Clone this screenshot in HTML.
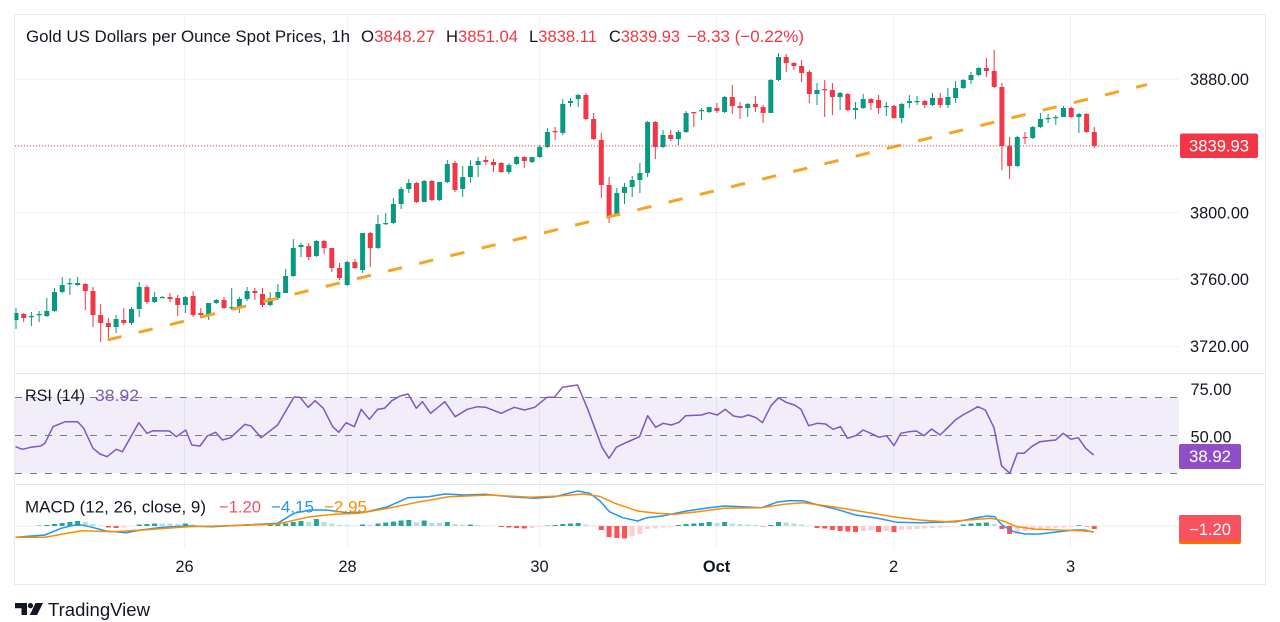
<!DOCTYPE html>
<html>
<head>
<meta charset="utf-8">
<style>
html,body{margin:0;padding:0;background:#fff;width:1280px;height:622px;overflow:hidden}
svg{display:block}
</style>
</head>
<body>
<svg width="1280" height="622" viewBox="0 0 1280 622" xmlns="http://www.w3.org/2000/svg" font-family="'Liberation Sans', Arial, sans-serif">
<defs>
<clipPath id="mainclip"><rect x="14.5" y="14.5" width="1164.5" height="358.5"/></clipPath>
<clipPath id="rsiclip"><rect x="14.5" y="374" width="1164.5" height="110"/></clipPath>
<clipPath id="macdclip"><rect x="14.5" y="485" width="1164.5" height="63"/></clipPath>
</defs>

<!-- frame -->
<rect x="14.5" y="14.5" width="1251" height="570" fill="#fff" stroke="#e9eaee" stroke-width="1"/>

<!-- vertical grid -->
<g stroke="#f0f2f6" stroke-width="1">
<line x1="184.5" y1="15" x2="184.5" y2="548"/>
<line x1="347.5" y1="15" x2="347.5" y2="548"/>
<line x1="539.5" y1="15" x2="539.5" y2="548"/>
<line x1="716.5" y1="15" x2="716.5" y2="548"/>
<line x1="893.5" y1="15" x2="893.5" y2="548"/>
<line x1="1070.5" y1="15" x2="1070.5" y2="548"/>
</g>
<!-- horizontal grid main -->
<g stroke="#f0f2f6" stroke-width="1">
<line x1="15" y1="79.5" x2="1179" y2="79.5"/>
<line x1="15" y1="146" x2="1179" y2="146"/>
<line x1="15" y1="212.5" x2="1179" y2="212.5"/>
<line x1="15" y1="279.5" x2="1179" y2="279.5"/>
<line x1="15" y1="346.5" x2="1179" y2="346.5"/>
</g>

<!-- RSI background -->
<rect x="15" y="397" width="1164" height="76" fill="#7E57C2" fill-opacity="0.1"/>

<!-- pane separators -->
<line x1="15" y1="373.5" x2="1265" y2="373.5" stroke="#e3e5ea" stroke-width="1"/>
<line x1="15" y1="484.5" x2="1265" y2="484.5" stroke="#e3e5ea" stroke-width="1"/>

<!-- Candles -->
<g clip-path="url(#mainclip)">
<path stroke="#089981" stroke-width="1" fill="none" d="M16 308V329M31.4 312V326M39.1 311V322M46.8 298V317M54.5 288V312M62.2 277V293M69.9 278V295M77.6 277V286M116.1 315V333M131.5 307V325M139.2 282V317M154.6 292V303M162.3 296V298M185.4 296V313M208.6 303V320M216.3 299V304M231.7 288V310M239.4 297V313M247.1 287V301M270.2 292V306M277.9 284V300M285.6 269V293M293.3 239V277M301 243V257M316.4 240V257M347.2 261V286M362.6 233V273M378 215V249M385.7 213V225M393.4 198V224M401.1 187V209M408.8 179V193M424.2 180V202M439.6 182V201M447.3 160V183M462.7 166V197M470.4 160V183M478.1 157V177M508.9 163V174M516.6 156V165M532 157V163M539.7 145V158M547.4 128V148M562.8 99V135M570.5 98V107M578.2 94V107M616.8 188V216M624.5 183V204M632.2 176V197M639.9 163V193M647.6 121V177M663 130V148M678.4 130V145M686.1 111V133M701.5 108V120M709.2 107V113M724.6 96V113M747.7 103V117M770.8 79V113M778.5 53V81M817 83V105M840.1 92V110M855.5 102V119M863.2 94V109M886.3 102V116M901.7 103V123M909.4 95V108M917.1 96V105M932.5 93V106M947.9 88V108M955.6 81V103M963.3 79V89M971 72V84M978.7 67V76M1017.3 136V167M1032.7 126V139M1040.4 113V128M1048.1 114V123M1055.8 115V125M1063.5 106V117M1078.9 113V133"/>
<path fill="#089981" d="M13.5 313h5V320h-5zM28.9 316h5V317.2h-5zM36.6 314h5V315.2h-5zM44.3 311h5V316h-5zM52 292h5V311h-5zM59.7 285h5V292h-5zM67.4 283h5V284.2h-5zM75.1 283h5V285h-5zM113.6 319h5V327h-5zM129 309h5V323h-5zM136.7 287h5V309h-5zM152.1 297h5V302h-5zM159.8 297h5V298.2h-5zM182.9 297h5V305h-5zM206.1 303h5V316h-5zM213.8 300h5V303h-5zM229.2 307h5V308.2h-5zM236.9 299h5V308h-5zM244.6 291h5V299h-5zM267.7 298h5V305h-5zM275.4 292h5V298h-5zM283.1 276h5V293h-5zM290.8 248h5V276h-5zM298.5 245h5V247h-5zM313.9 241h5V256h-5zM344.7 262h5V285h-5zM360.1 233h5V270h-5zM375.5 224h5V248h-5zM383.2 223h5V224.2h-5zM390.9 204h5V223h-5zM398.6 189h5V204h-5zM406.3 183h5V189h-5zM421.7 181h5V202h-5zM437.1 182h5V200h-5zM444.8 164h5V182h-5zM460.2 177h5V189h-5zM467.9 166h5V177h-5zM475.6 161h5V165h-5zM506.4 165h5V172h-5zM514.1 157h5V164h-5zM529.5 157h5V162h-5zM537.2 147h5V157h-5zM544.9 132h5V147h-5zM560.3 104h5V133h-5zM568 101h5V103h-5zM575.7 95h5V99h-5zM614.3 193h5V215h-5zM622 187h5V193h-5zM629.7 180h5V187h-5zM637.4 173h5V180h-5zM645.1 122h5V173h-5zM660.5 135h5V147h-5zM675.9 132h5V139h-5zM683.6 113h5V132h-5zM699 110h5V111.2h-5zM706.7 107h5V112h-5zM722.1 97h5V112h-5zM745.2 104h5V108h-5zM768.3 80h5V113h-5zM776 57h5V80h-5zM814.5 90h5V94h-5zM837.6 93h5V97h-5zM853 108h5V110h-5zM860.7 99h5V108h-5zM883.8 106h5V107.2h-5zM899.2 104h5V118h-5zM906.9 101h5V103h-5zM914.6 101h5V102.2h-5zM930 98h5V105h-5zM945.4 97h5V105h-5zM953.1 88h5V98h-5zM960.8 80h5V88h-5zM968.5 75h5V80h-5zM976.2 68h5V75h-5zM1014.8 137h5V166h-5zM1030.2 127h5V138h-5zM1037.9 119h5V127h-5zM1045.6 118h5V119.2h-5zM1053.3 117h5V118.2h-5zM1061 108h5V117h-5zM1076.4 114h5V117h-5z"/>
<path stroke="#F23645" stroke-width="1" fill="none" d="M23.7 313V322M85.3 283V310M93 287V327M100.7 304V342M108.4 318V338M123.8 308V325M146.9 285V304M170 293V302M177.7 295V316M193.1 291V317M200.8 308V318M224 297V309M254.8 288V300M262.5 288V307M308.7 243V260M324.1 240V254M331.8 248V272M339.5 263V280M354.9 259V269M370.3 232V267M416.5 182V203M431.9 180V201M455 161V192M485.8 156V165M493.5 159V172M501.2 162V173M524.3 156V168M555.1 127V140M585.9 93V120M593.6 113V140M601.3 133V198M609.1 177V223M655.3 121V159M670.7 130V141M693.8 112V127M716.9 103V113M732.3 85V114M740 102V119M755.4 96V112M763.1 105V123M786.2 54V72M793.9 62V70M801.6 60V82M809.3 70V103M824.7 80V117M832.4 83V115M847.8 93V111M870.9 98V110M878.6 95V114M894 105V119M924.8 100V108M940.2 93V108M986.4 58V77M994.2 50V88M1001.9 83V170M1009.6 137V179M1025 132V144M1071.2 107V118M1086.6 113V133M1094.3 127V148"/>
<path fill="#F23645" d="M21.2 314h5V318h-5zM82.8 284h5V291h-5zM90.5 291h5V315h-5zM98.2 315h5V323h-5zM105.9 323h5V327h-5zM121.3 320h5V323h-5zM144.4 287h5V302h-5zM167.5 297h5V299h-5zM175.2 298h5V305h-5zM190.6 296h5V315h-5zM198.3 313h5V315h-5zM221.5 300h5V308h-5zM252.3 291h5V293h-5zM260 294h5V305h-5zM306.2 246h5V257h-5zM321.6 241h5V248h-5zM329.3 248h5V268h-5zM337 268h5V278h-5zM352.4 262h5V268h-5zM367.8 233h5V248h-5zM414 183h5V202h-5zM429.4 181h5V200h-5zM452.5 163h5V190h-5zM483.3 160h5V162h-5zM491 162h5V165h-5zM498.7 163h5V172h-5zM521.8 157h5V161h-5zM552.6 131h5V132.2h-5zM583.4 95h5V119h-5zM591.1 119h5V139h-5zM598.8 140h5V185h-5zM606.6 185h5V216h-5zM652.8 122h5V147h-5zM668.2 135h5V139h-5zM691.3 112h5V113.2h-5zM714.4 108h5V111h-5zM729.8 97h5V106h-5zM737.5 106h5V108h-5zM752.9 104h5V107h-5zM760.6 107h5V113h-5zM783.7 57h5V63h-5zM791.4 63h5V66h-5zM799.1 66h5V73h-5zM806.8 72h5V94h-5zM822.2 89h5V90.2h-5zM829.9 90h5V97h-5zM845.3 94h5V110h-5zM868.4 99h5V103h-5zM876.1 100h5V108h-5zM891.5 106h5V118h-5zM922.3 101h5V105h-5zM937.7 98h5V105h-5zM983.9 68h5V71h-5zM991.7 71h5V87h-5zM999.4 87h5V146h-5zM1007.1 146h5V166h-5zM1022.5 137h5V138.2h-5zM1068.7 108h5V117h-5zM1084.1 114h5V132h-5zM1091.8 132h5V146h-5z"/>

<!-- trend line -->
<line x1="107.5" y1="340" x2="1147" y2="84.6" stroke="#F7A325" stroke-width="3" stroke-dasharray="14.4 17.7" stroke-linecap="butt"/>
<!-- price line -->
<line x1="15" y1="145.9" x2="1179" y2="145.9" stroke="#F23645" stroke-width="1" stroke-dasharray="1 2"/>
</g>

<!-- RSI -->
<g clip-path="url(#rsiclip)">
<g stroke="#787B86" stroke-width="1" stroke-dasharray="7 8">
<line x1="15" y1="397.5" x2="1179" y2="397.5"/>
<line x1="15" y1="435.5" x2="1179" y2="435.5"/>
<line x1="15" y1="473.5" x2="1179" y2="473.5"/>
</g>
<polyline fill="none" stroke="#7E57C2" stroke-width="1.5" stroke-linejoin="round" points="15.5,446.7 22.4,449.3 30.6,447.3 40.8,446 44.9,443.3 53,426.7 65.3,421.7 77.6,421.7 83.7,428.3 93,448.3 100,454 107,456.7 116.3,449.3 122.4,451.7 138.8,422.7 147,433.3 153,430.7 169.4,431 176.3,436.7 185.7,430 191.8,445 200,446 207.3,436 215.5,432.3 222.4,440 230.6,437.7 244.9,424.3 251,426 261.2,437.7 277.6,425 293.9,397.3 300,397.3 308.2,407.3 315.1,400.7 323.3,408.3 332.7,426.7 338.8,432.3 346.1,422.7 354.3,426.7 361.2,409.3 369.4,419.3 377.6,409.3 384.5,408.3 391.8,400.7 400,396 408.2,394 416.3,408.3 422.4,401.7 430.6,413.3 444.9,401.7 455.1,416.7 467.3,409.3 477.6,406.7 485.7,407.3 501.2,413.3 514.3,407.3 524.5,410 534.7,407.3 547,397.3 554.3,397.3 562.4,387.3 577.6,385 587.8,409.3 602,447.3 609,458.3 616.3,447.3 624.4,443.3 632,440 639.5,436.7 647.7,415.7 655.6,427.3 663.2,423.3 671.4,425 679,422.3 685.7,415.7 701.5,415 709,412.7 717.3,415 725.2,409.3 733.5,416 741,417.3 748.5,415 756,417.7 762.4,422.7 771,405.7 778.6,397.7 786,402.3 794.4,405 801,409.3 808.6,425.7 817.3,423.3 825.6,424 833,429.3 840.6,426.7 847.4,438.3 855.6,435.7 863.2,430 870.7,433.3 879,437.3 886.5,435.7 894,445.7 900.8,433.3 909,431.7 916.5,431 924,435.7 931.6,429 940,435 947.7,427.7 955.3,420 962.8,415 970.3,411 977.8,406.7 985.3,410 994,427.7 1001.5,465.7 1009.8,473.3 1017.3,453.3 1024,453.3 1031.6,446.7 1039.8,441.7 1048.1,440.7 1055.6,440 1063.2,433.3 1071,439.3 1078.2,437.7 1085.7,448.3 1093.6,455"/>
</g>

<!-- MACD -->
<g clip-path="url(#macdclip)">
<line x1="15" y1="526" x2="1179" y2="526" stroke="#ececf0" stroke-width="1"/>
<path fill="#26A69A" d="M36.6 526h5v-.5h-5zM44.3 526h5v-1h-5zM52 526h5v-2h-5zM59.7 526h5v-3h-5zM67.4 526h5v-4h-5zM75.1 526h5v-5h-5zM136.7 526h5v-1.5h-5zM144.4 526h5v-2h-5zM152.1 526h5v-2.5h-5zM182.9 526h5v-2.5h-5zM229.2 526h5v-.6h-5zM236.9 526h5v-1h-5zM244.6 526h5v-1.2h-5zM267.7 526h5v-1.3h-5zM275.4 526h5v-1.6h-5zM283.1 526h5v-2.5h-5zM290.8 526h5v-4h-5zM298.5 526h5v-5h-5zM313.9 526h5v-7h-5zM360.1 526h5v-1.5h-5zM375.5 526h5v-2.5h-5zM383.2 526h5v-3.5h-5zM390.9 526h5v-4.5h-5zM398.6 526h5v-5.5h-5zM406.3 526h5v-6h-5zM421.7 526h5v-5.5h-5zM444.8 526h5v-4h-5zM467.9 526h5v-1.5h-5zM544.9 526h5v-.5h-5zM552.6 526h5v-1h-5zM560.3 526h5v-2h-5zM568 526h5v-2.5h-5zM575.7 526h5v-3h-5zM675.9 526h5v-1h-5zM683.6 526h5v-2h-5zM691.3 526h5v-2.5h-5zM699 526h5v-3h-5zM706.7 526h5v-4h-5zM722.1 526h5v-4h-5zM768.3 526h5v-1h-5zM776 526h5v-4h-5zM960.8 526h5v-1.5h-5zM968.5 526h5v-2.5h-5zM976.2 526h5v-3h-5zM983.9 526h5v-3.5h-5zM1076.4 526h5v-.8h-5z"/>
<path fill="#B2DFDB" d="M82.8 526h5v-4h-5zM90.5 526h5v-2h-5zM98.2 526h5v-.5h-5zM159.8 526h5v-2.5h-5zM167.5 526h5v-2.5h-5zM175.2 526h5v-2h-5zM190.6 526h5v-1.5h-5zM198.3 526h5v-.8h-5zM206.1 526h5v-.8h-5zM213.8 526h5v-.8h-5zM221.5 526h5v-.5h-5zM252.3 526h5v-1h-5zM260 526h5v-1h-5zM306.2 526h5v-4h-5zM321.6 526h5v-4h-5zM329.3 526h5v-2.5h-5zM337 526h5v-1h-5zM344.7 526h5v-.8h-5zM352.4 526h5v-.5h-5zM367.8 526h5v-1.2h-5zM414 526h5v-3.5h-5zM429.4 526h5v-3h-5zM437.1 526h5v-3h-5zM452.5 526h5v-2h-5zM460.2 526h5v-1.2h-5zM475.6 526h5v-1h-5zM483.3 526h5v-.5h-5zM491 526h5v-.3h-5zM583.4 526h5v-1.5h-5zM591.1 526h5v-.5h-5zM714.4 526h5v-3h-5zM729.8 526h5v-2.5h-5zM737.5 526h5v-2h-5zM745.2 526h5v-1.5h-5zM752.9 526h5v-1h-5zM783.7 526h5v-3.5h-5zM791.4 526h5v-2.5h-5zM799.1 526h5v-1.5h-5zM806.8 526h5v-.5h-5zM991.7 526h5v-2h-5z"/>
<path fill="#FF5252" d="M105.9 526h5v1.5h-5zM113.6 526h5v2h-5zM498.7 526h5v1h-5zM506.4 526h5v1.5h-5zM514.1 526h5v2h-5zM521.8 526h5v2.5h-5zM598.8 526h5v4h-5zM606.6 526h5v11h-5zM614.3 526h5v12h-5zM622 526h5v12.5h-5zM760.6 526h5v.5h-5zM814.5 526h5v2h-5zM822.2 526h5v2.5h-5zM829.9 526h5v4h-5zM837.6 526h5v5h-5zM845.3 526h5v5.5h-5zM853 526h5v6h-5zM876.1 526h5v6h-5zM891.5 526h5v6h-5zM999.4 526h5v3h-5zM1007.1 526h5v8h-5zM1084.1 526h5v.5h-5zM1091.8 526h5v3h-5z"/>
<path fill="#FFCDD2" d="M13.5 526h5v.5h-5zM21.2 526h5v.5h-5zM28.9 526h5v.3h-5zM121.3 526h5v1.5h-5zM129 526h5v.5h-5zM529.5 526h5v2h-5zM537.2 526h5v.8h-5zM629.7 526h5v10h-5zM637.4 526h5v8h-5zM645.1 526h5v3h-5zM652.8 526h5v2.5h-5zM660.5 526h5v1.5h-5zM668.2 526h5v1h-5zM860.7 526h5v5h-5zM868.4 526h5v4.5h-5zM883.8 526h5v5h-5zM899.2 526h5v4h-5zM906.9 526h5v3.5h-5zM914.6 526h5v3h-5zM922.3 526h5v2.5h-5zM930 526h5v2h-5zM937.7 526h5v1.5h-5zM945.4 526h5v1h-5zM953.1 526h5v.5h-5zM1014.8 526h5v8h-5zM1022.5 526h5v5h-5zM1030.2 526h5v4h-5zM1037.9 526h5v3h-5zM1045.6 526h5v2.5h-5zM1053.3 526h5v2h-5zM1061 526h5v1.5h-5zM1068.7 526h5v.8h-5z"/>
<polyline fill="none" stroke="#2196F3" stroke-width="1.5" stroke-linejoin="round" points="15.5,537.3 45,535 61,528.3 77.6,524.3 89.8,526.7 106,531 126.5,532.7 140.8,530 163,527.3 187.8,526 212,526.7 245,525 277.6,523.3 293.9,513.3 310,510 326.5,510 347,512.7 367,511.7 387.8,506.7 408,497.7 428.6,496.7 445,494 465,495 485.7,494.3 510,496.7 534.7,498.3 555,496.7 577.6,491 589.8,493.3 600,501 609.4,511.7 622.6,517.7 637.6,521 647,517.7 664,515.7 686.5,511 709,507.7 724,506 742.9,506.7 761.7,507.7 776.7,502.3 788,500.7 803,500.7 818,505 836.8,509.3 855.6,515 878,518.3 897,522.3 919.5,522.7 957,521.7 976,517.7 987,516 994.7,516.7 1002,525 1013.5,531.7 1024.8,534 1039.8,534 1058.6,531.7 1073.7,530 1085,530 1093.6,532.3"/>
<polyline fill="none" stroke="#FB8C00" stroke-width="1.5" stroke-linejoin="round" points="15.5,537.3 45,537.3 81.6,530.7 114,531.7 143,530 187.8,526.7 228.6,525.7 277.6,524 310,516.7 334.7,514.3 359,513.3 387.8,508.3 420,501.7 449,496.7 490,495 530.6,497.3 559,496 583.7,494 600,496.5 615,503.3 637.6,511 656.4,513.3 675,514.3 697.7,511.7 724,508.3 761.7,507.7 784.2,504.3 803,502.7 833,506.7 863,511.7 893,516.7 919.5,520 945.9,521.7 968.4,520 991,518.3 1002,520.7 1017.3,526.7 1036,529.3 1058.6,530 1081,530.7 1093.6,531.7"/>
</g>

<!-- Legends -->
<g font-size="17" fill="#131722">
<text x="26" y="42" textLength="324" lengthAdjust="spacingAndGlyphs">Gold US Dollars per Ounce Spot Prices, 1h</text>
<text x="361" y="42" textLength="74" lengthAdjust="spacingAndGlyphs">O<tspan fill="#F23645">3848.27</tspan></text>
<text x="446" y="42" textLength="72" lengthAdjust="spacingAndGlyphs">H<tspan fill="#F23645">3851.04</tspan></text>
<text x="529" y="42" textLength="68" lengthAdjust="spacingAndGlyphs">L<tspan fill="#F23645">3838.11</tspan></text>
<text x="609" y="42" textLength="71" lengthAdjust="spacingAndGlyphs">C<tspan fill="#F23645">3839.93</tspan></text>
<text x="687" y="42" textLength="117" lengthAdjust="spacingAndGlyphs" fill="#F23645">−8.33 (−0.22%)</text>
</g>
<g font-size="16.5">
<text x="25" y="401" textLength="60" lengthAdjust="spacingAndGlyphs" fill="#131722">RSI (14)</text>
<text x="95" y="401" textLength="44" lengthAdjust="spacingAndGlyphs" fill="#7E57C2">38.92</text>
</g>
<g font-size="17">
<text x="25" y="512.5" textLength="181" lengthAdjust="spacingAndGlyphs" fill="#131722">MACD (12, 26, close, 9)</text>
<text x="219" y="512.5" textLength="42" lengthAdjust="spacingAndGlyphs" fill="#F0516A">−1.20</text>
<text x="271" y="512.5" textLength="43" lengthAdjust="spacingAndGlyphs" fill="#2196F3">−4.15</text>
<text x="324" y="512.5" textLength="43" lengthAdjust="spacingAndGlyphs" fill="#FB8C00">−2.95</text>
</g>

<!-- Price axis -->
<g font-size="16.4" fill="#131722">
<text x="1190" y="85" textLength="59" lengthAdjust="spacingAndGlyphs">3880.00</text>
<text x="1190" y="218.5" textLength="59" lengthAdjust="spacingAndGlyphs">3800.00</text>
<text x="1190" y="285" textLength="59" lengthAdjust="spacingAndGlyphs">3760.00</text>
<text x="1190" y="352" textLength="59" lengthAdjust="spacingAndGlyphs">3720.00</text>
<text x="1190.5" y="395" textLength="41" lengthAdjust="spacingAndGlyphs">75.00</text>
<text x="1190.5" y="442.5" textLength="41" lengthAdjust="spacingAndGlyphs">50.00</text>
</g>
<rect x="1180" y="133.5" width="78" height="24.5" rx="2" fill="#F23645"/>
<text x="1219" y="151.5" font-size="16.4" fill="#fff" text-anchor="middle" textLength="60" lengthAdjust="spacingAndGlyphs">3839.93</text>
<rect x="1179" y="444" width="62" height="25" rx="2" fill="#8E4FC6"/>
<text x="1210" y="462" font-size="16.4" fill="#fff" text-anchor="middle" textLength="42" lengthAdjust="spacingAndGlyphs">38.92</text>
<rect x="1179" y="515" width="62" height="29" rx="2" fill="#FF6D00"/>
<rect x="1179" y="515" width="62" height="26" rx="2" fill="#F7525F"/>
<text x="1210" y="535" font-size="16.4" fill="#fff" text-anchor="middle" textLength="42" lengthAdjust="spacingAndGlyphs">−1.20</text>

<!-- Time axis -->
<g font-size="16.4" fill="#131722" text-anchor="middle">
<text x="184.5" y="572">26</text>
<text x="347.5" y="572">28</text>
<text x="539.5" y="572">30</text>
<text x="716.5" y="572" font-weight="bold">Oct</text>
<text x="893.5" y="572">2</text>
<text x="1070.5" y="572">3</text>
</g>

<!-- TradingView logo -->
<g fill="#131722">
<path d="M15 603h12v12h-5.5v-6.8H15z"/>
<circle cx="30.5" cy="605.6" r="2.6"/>
<path d="M35.5 603h7.5l-6 12h-7.2z"/>
</g>
<text x="48" y="616" font-size="18.5" fill="#131722" textLength="102" lengthAdjust="spacingAndGlyphs">TradingView</text>
</svg>
</body>
</html>
